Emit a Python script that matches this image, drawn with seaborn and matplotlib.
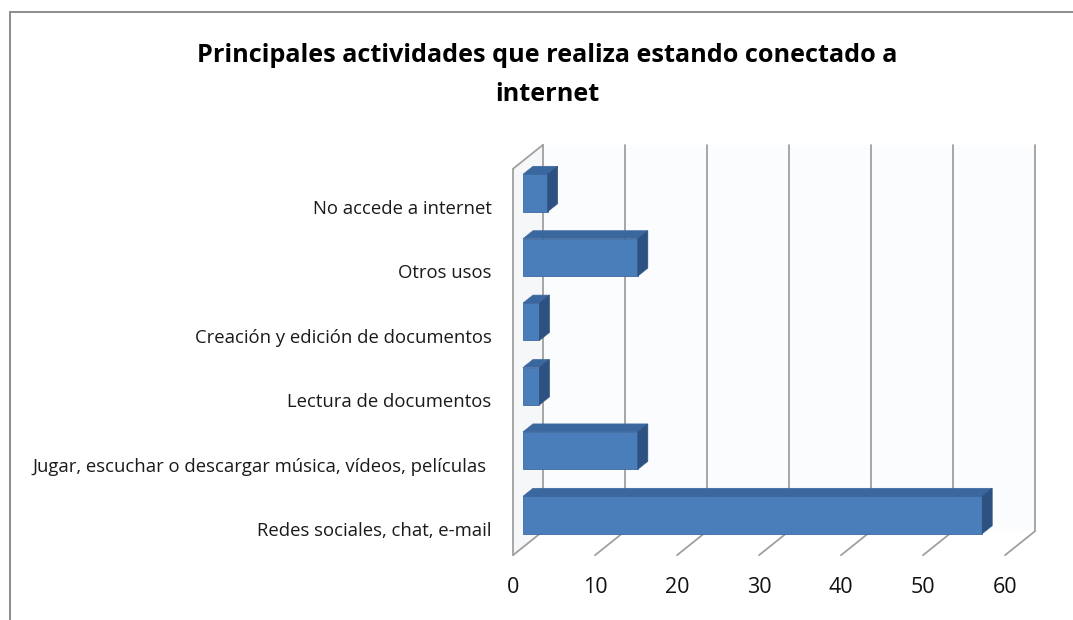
import matplotlib
matplotlib.use("Agg")

import matplotlib.pyplot as plt
from matplotlib.lines import Line2D
from matplotlib.patches import Polygon
from matplotlib.transforms import ScaledTranslation
import seaborn as sns
import pandas as pd


# Chart data
categories = ["No accede a internet",
              "Otros usos",
              "Creación y edición de documentos",
              "Lectura de documentos",
              "Jugar, escuchar o descargar música, vídeos, películas ",
              "Redes sociales, chat, e-mail"]
values = [3, 14, 2, 2, 14, 56]
x_ticks = [0, 10, 20, 30, 40, 50, 60]
title = "Principales actividades que realiza estando conectado a\ninternet"

# Layout (pixels of a 1073x620 image)
FIG_W, FIG_H, DPI = 1073, 620, 100
AX_LEFT, AX_RIGHT, AX_TOP, AX_BOTTOM = 500, 1050, 130, 560
ZERO_PX, PX_PER_UNIT = 523, 8.2       # bar plane: value 0 and scale
ROW0_PX, PX_PER_ROW = 193, 64.4       # centre of first bar, spacing of rows

# 3D depth offsets relative to the bar plane (display px, y up)
FRONT = (-10, -8)
BACK = (20, 16)
BAR_DEPTH = (10, 8)

FACE = "#4a7ebb"
TOP = "#3a679e"
SIDE = "#2d5282"
GRID = "#a0a0a0"


def shifted(ax, x, y, offset):
    """Moves a data point by an offset given in display pixels."""
    px, py = ax.transData.transform((x, y))
    return ax.transData.inverted().transform((px + offset[0], py + offset[1]))


def main():
    sns.set_style("white")
    plt.rcParams["font.family"] = ["Open Sans", "DejaVu Sans"]

    fig = plt.figure(figsize=(FIG_W / DPI, FIG_H / DPI), dpi=DPI)
    ax = fig.add_axes([AX_LEFT / FIG_W, 1 - AX_BOTTOM / FIG_H,
                       (AX_RIGHT - AX_LEFT) / FIG_W, (AX_BOTTOM - AX_TOP) / FIG_H])

    data = pd.DataFrame({"actividad": categories, "valor": values})
    sns.barplot(data=data, x="valor", y="actividad", orient="h", color=FACE,
                saturation=1, width=0.58, edgecolor="#3d6a9f", linewidth=0.6,
                ax=ax, zorder=3)
    bars = list(ax.patches)

    ax.set_xlim((AX_LEFT - ZERO_PX) / PX_PER_UNIT, (AX_RIGHT - ZERO_PX) / PX_PER_UNIT)
    ax.set_ylim((AX_BOTTOM - ROW0_PX) / PX_PER_ROW, (AX_TOP - ROW0_PX) / PX_PER_ROW)
    for side in ax.spines.values():
        side.set_visible(False)
    ax.set_xlabel("")
    ax.set_ylabel("")

    y_top, y_bot = -0.5, len(categories) - 0.5
    x_max = x_ticks[-1]

    # back wall fill and left wall fill
    back_wall = [shifted(ax, 0, y_top, BACK), shifted(ax, x_max, y_top, BACK),
                 shifted(ax, x_max, y_bot, BACK), shifted(ax, 0, y_bot, BACK)]
    ax.add_patch(Polygon(back_wall, closed=True, facecolor="#fbfcfe", edgecolor="none", zorder=0))
    left_wall = [shifted(ax, 0, y_top, FRONT), shifted(ax, 0, y_top, BACK),
                 shifted(ax, 0, y_bot, BACK), shifted(ax, 0, y_bot, FRONT)]
    ax.add_patch(Polygon(left_wall, closed=True, facecolor="#f6f7f9", edgecolor="none", zorder=0))

    # gridlines on the back wall and on the floor
    for t in x_ticks:
        p1, p2 = shifted(ax, t, y_top, BACK), shifted(ax, t, y_bot, BACK)
        ax.plot([p1[0], p2[0]], [p1[1], p2[1]], color=GRID, lw=1.3, zorder=1)
        f1, f2 = shifted(ax, t, y_bot, FRONT), shifted(ax, t, y_bot, BACK)
        ax.plot([f1[0], f2[0]], [f1[1], f2[1]], color=GRID, lw=1.3, zorder=1)

    # outline of the left wall
    a, b = shifted(ax, 0, y_top, FRONT), shifted(ax, 0, y_bot, FRONT)
    ax.plot([a[0], b[0]], [a[1], b[1]], color=GRID, lw=1.3, zorder=1)
    c = shifted(ax, 0, y_top, BACK)
    ax.plot([a[0], c[0]], [a[1], c[1]], color=GRID, lw=1.3, zorder=1)

    # top and side faces of the bars
    for bar in bars:
        x0, y0 = bar.get_x(), bar.get_y()
        x1, y1 = x0 + bar.get_width(), y0 + bar.get_height()
        top = [(x0, y0), (x1, y0), shifted(ax, x1, y0, BAR_DEPTH), shifted(ax, x0, y0, BAR_DEPTH)]
        side = [(x1, y0), (x1, y1), shifted(ax, x1, y1, BAR_DEPTH), shifted(ax, x1, y0, BAR_DEPTH)]
        ax.add_patch(Polygon(top, closed=True, facecolor=TOP, edgecolor=TOP, lw=0.5, zorder=3))
        ax.add_patch(Polygon(side, closed=True, facecolor=SIDE, edgecolor=SIDE, lw=0.5, zorder=3))

    # category labels sit on the front plane
    ax.set_yticks(range(len(categories)))
    ax.set_yticklabels(categories, fontsize=13.3, color="#1a1a1a")
    ax.tick_params(axis="y", length=0, pad=6)
    for label in ax.get_yticklabels():
        label.set_transform(label.get_transform() + ScaledTranslation(0, -0.14, fig.dpi_scale_trans))

    ax.set_xticks(x_ticks)
    ax.set_xticklabels([str(t) for t in x_ticks], fontsize=15.5, color="#111111")
    ax.tick_params(axis="x", length=0, pad=12)
    for label in ax.get_xticklabels():
        label.set_transform(label.get_transform() + ScaledTranslation(FRONT[0] / DPI, 0, fig.dpi_scale_trans))

    fig.text(547 / FIG_W, 1 - 43 / FIG_H, title, ha="center", va="top", fontsize=18.2,
             fontweight="bold", color="black", linespacing=1.72)

    # chart border (only top and left edges are inside the image)
    fig.add_artist(Line2D([10 / FIG_W, 1], [1 - 12 / FIG_H] * 2, transform=fig.transFigure,
                          color="#8c8c8c", lw=1.4))
    fig.add_artist(Line2D([10 / FIG_W] * 2, [0, 1 - 12 / FIG_H], transform=fig.transFigure,
                          color="#8c8c8c", lw=1.4))

    fig.savefig("out.png", dpi=DPI, facecolor="white")


if __name__ == "__main__":
    main()
